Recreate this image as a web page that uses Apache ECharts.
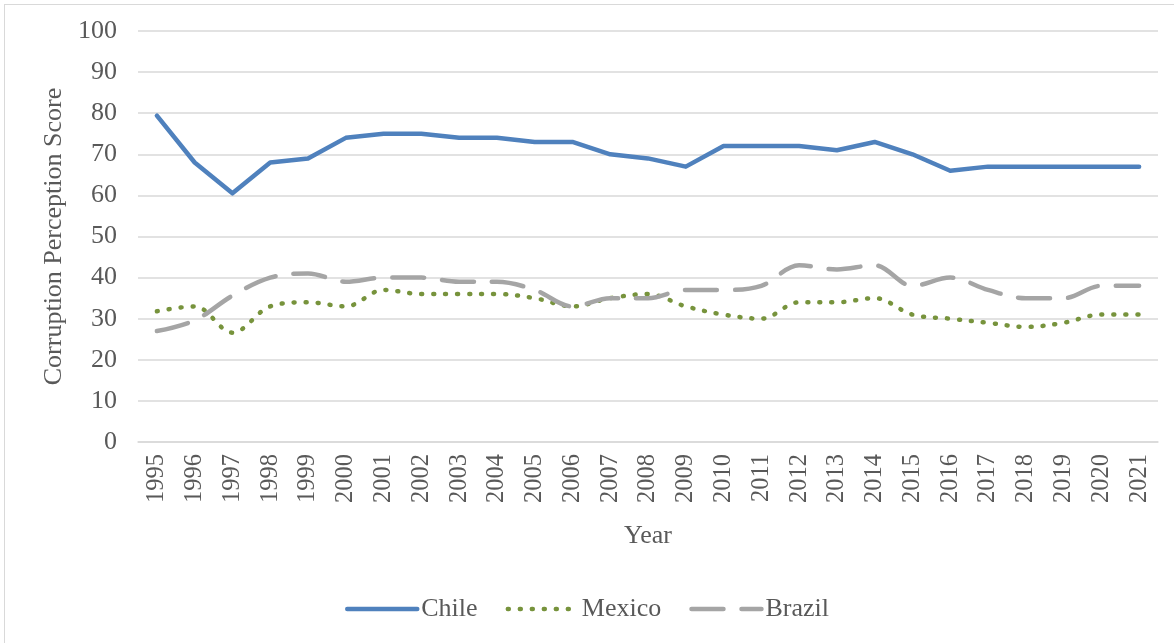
<!DOCTYPE html>
<html>
<head>
<meta charset="utf-8">
<script src="https://cdn.jsdelivr.net/npm/echarts@6/dist/echarts.min.js"></script>
<style>
html,body{margin:0;padding:0;background:#fff;}
#frame{position:absolute;left:4px;top:4px;width:1180px;height:650px;border-left:1px solid #d9d9d9;border-top:1px solid #d9d9d9;}
#chart{position:absolute;left:0;top:0;width:1174px;height:643px;}
</style>
</head>
<body>
<div id="frame"></div>
<div id="chart"></div>
<script>
const years = ['1995','1996','1997','1998','1999','2000','2001','2002','2003','2004','2005','2006','2007','2008','2009','2010','2011','2012','2013','2014','2015','2016','2017','2018','2019','2020','2021'];
const chile = [79.4,68,60.5,68,69,74,75,75,74,74,73,73,70,69,67,72,72,72,71,73,70,66,67,67,67,67,67];
const mexico = [31.8,33,26.6,33,34,33,37,36,36,36,35,33,35,36,33,31,30,34,34,35,31,30,29,28,29,31,31];
const brazil = [27,29.6,35.6,40,41,39,40,40,39,39,37,33,35,35,37,37,38,43,42,43,38,40,37,35,35,38,38];
const yTicks = [0,10,20,30,40,50,60,70,80,90,100];

const txt = '#595959';
const font = '"Liberation Serif","Times New Roman",serif';
const chart = echarts.init(document.getElementById('chart'), null, {renderer:'canvas'});
chart.setOption({
  animation:false,
  textStyle:{fontFamily:font,color:txt},
  grid:{left:138,right:16,top:31,bottom:201,containLabel:false},
  legend:{
    top:591,left:'center',itemWidth:70,itemHeight:14,itemGap:28,
    itemStyle:{opacity:0},
    lineStyle:{width:4.5,cap:'round'},
    textStyle:{fontFamily:font,fontSize:26,color:txt,padding:[0,0,0,-1]},
    data:['Chile','Mexico','Brazil']
  },
  xAxis:{
    type:'category',data:years,boundaryGap:true,
    name:'Year',nameLocation:'middle',nameGap:81,
    nameTextStyle:{fontFamily:font,fontSize:26,color:txt},
    axisLine:{show:true,lineStyle:{color:'#d9d9d9',width:1.5}},
    axisTick:{show:false},
    axisLabel:{rotate:90,fontFamily:font,fontSize:24.5,color:txt,margin:12,interval:0}
  },
  yAxis:{
    type:'value',min:yTicks[0],max:yTicks[yTicks.length-1],interval:10,
    name:'Corruption Perception Score',nameLocation:'middle',nameGap:70,
    nameTextStyle:{fontFamily:font,fontSize:26,color:txt},
    axisLine:{show:false},axisTick:{show:false},
    axisLabel:{fontFamily:font,fontSize:26,color:txt,margin:21},
    splitLine:{lineStyle:{color:'#d9d9d9',width:1.5}}
  },
  series:[
    {name:'Chile',type:'line',data:chile,symbol:'none',
     lineStyle:{color:'#4F81BD',width:4.5,cap:'round',join:'round'},itemStyle:{color:'#4F81BD'}},
    {name:'Mexico',type:'line',data:mexico,symbol:'none',smooth:0.35,
     lineStyle:{color:'#77933C',width:4.5,type:[1,11],cap:'round',join:'round'},itemStyle:{color:'#77933C'}},
    {name:'Brazil',type:'line',data:brazil,symbol:'none',smooth:0.35,
     lineStyle:{color:'#A5A5A5',width:4.5,type:[32,18],cap:'round',join:'round'},itemStyle:{color:'#A5A5A5'}}
  ]
});
</script>
</body>
</html>
